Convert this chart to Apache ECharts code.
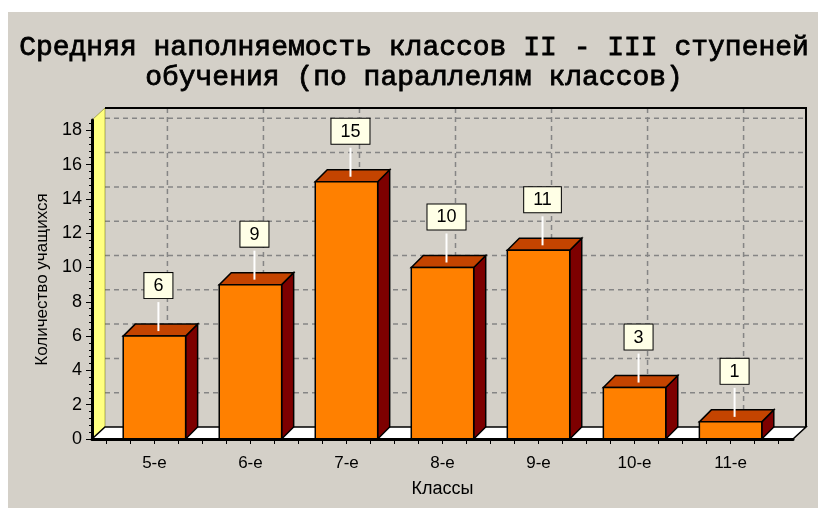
<!DOCTYPE html>
<html>
<head>
<meta charset="utf-8">
<script src="https://cdn.jsdelivr.net/npm/echarts@6/dist/echarts.min.js"></script>
<style>
  html, body { margin: 0; padding: 0; background: #ffffff; }
  #chart { position: absolute; left: 8px; top: 12px; width: 810px; height: 496px; }
</style>
</head>
<body>
<div id="chart"></div>
<script>
// данные
const classes = ['5-е', '6-е', '7-е', '8-е', '9-е', '10-е', '11-е'];
const pupils = [6, 9, 15, 10, 11, 3, 1];
const yTicks = [0, 2, 4, 6, 8, 10, 12, 14, 16, 18];
const yMax = 18.6;
const titleLines = ['Средняя наполняемость классов II - III ступеней', 'обучения (по параллелям классов)'];

const DX = 13, DY = 12;     // глубина "3D"
const BAR_DX = 12, BAR_DY = 12;

let chart = echarts.init(document.getElementById('chart'));

// стенки, пол и сетка на задней стенке
function renderWalls(params, api) {
    const cs = params.coordSys;
    const x0 = cs.x, x1 = cs.x + cs.width;
    const yb = api.coord([0, 0])[1];
    const yt = api.coord([0, yMax])[1];
    let children = [];
    for (let i = 1; i < yTicks.length; i++) {
        const y = api.coord([0, yTicks[i]])[1] - DY;
        children.push({
            type: 'line',
            shape: {x1: x0 + DX, y1: y, x2: x1 + DX, y2: y},
            style: {stroke: '#858585', lineWidth: 1.5, lineDash: [5, 4]}
        });
    }
    for (let i = 0; i < classes.length; i++) {
        const x = api.coord([i, 0])[0] + DX;
        children.push({
            type: 'line',
            shape: {x1: x, y1: yt - DY, x2: x, y2: yb - DY},
            style: {stroke: '#858585', lineWidth: 1.5, lineDash: [5, 4]}
        });
    }
    // левая стенка
    children.push({
        type: 'polygon',
        shape: {points: [[x0, yb], [x0, yt], [x0 + DX, yt - DY], [x0 + DX, yb - DY]]},
        style: {fill: '#ffff80', stroke: '#6b6b00', lineWidth: 0.5}
    });
    // пол
    children.push({
        type: 'polygon',
        shape: {points: [[x0, yb], [x1, yb], [x1 + DX, yb - DY], [x0 + DX, yb - DY]]},
        style: {fill: '#ffffff', stroke: '#000000', lineWidth: 1.5}
    });
    // рамка задней стенки
    children.push({
        type: 'polyline',
        shape: {points: [[x0 + DX, yt - DY], [x1 + DX, yt - DY], [x1 + DX, yb - DY]]},
        style: {fill: 'none', stroke: '#000000', lineWidth: 2}
    });
    return {type: 'group', children: children};
}

function renderBar(params, api) {
    const i = api.value(0);
    const v = api.value(1);
    const base = api.coord([i, 0]);
    const top = api.coord([i, v]);
    const halfW = api.size([1, 0])[0] * 0.325;
    const xl = base[0] - halfW, xr = base[0] + halfW;
    const yb = base[1], yt = top[1];
    const lx = base[0] + 4;
    const boxBottom = yt - 38;
    return {
        type: 'group',
        children: [
            {   // бок
                type: 'polygon',
                shape: {points: [[xr, yb], [xr, yt], [xr + BAR_DX, yt - BAR_DY], [xr + BAR_DX, yb - BAR_DY]]},
                style: {fill: '#7d0000', stroke: '#000', lineWidth: 1.5}
            },
            {   // верх
                type: 'polygon',
                shape: {points: [[xl, yt], [xr, yt], [xr + BAR_DX, yt - BAR_DY], [xl + BAR_DX, yt - BAR_DY]]},
                style: {fill: '#c44400', stroke: '#000', lineWidth: 1.5}
            },
            {   // фронт
                type: 'rect',
                shape: {x: xl, y: yt, width: xr - xl, height: yb - yt},
                style: {fill: '#ff8000', stroke: '#000', lineWidth: 1.5}
            },
            {
                type: 'line',
                shape: {x1: lx, y1: boxBottom + 4, x2: lx, y2: yt - 5},
                style: {stroke: '#ffffff', lineWidth: 2}
            },
            {
                type: 'text',
                style: {
                    text: String(v),
                    x: lx, y: boxBottom,
                    align: 'center', verticalAlign: 'bottom',
                    font: '18px "Liberation Sans", Arial, sans-serif',
                    fill: '#000',
                    backgroundColor: '#ffffe6',
                    borderColor: '#000',
                    borderWidth: 1,
                    padding: [4, 9, 3, 9],
                    boxShadowColor: 'rgba(60,60,60,0.6)',
                    boxShadowBlur: 2,
                    boxShadowOffsetX: 3,
                    boxShadowOffsetY: 3
                }
            }
        ]
    };
}

let quarterTicks = [];
for (let t = -2; t <= 26; t++) quarterTicks.push(t / 4);

const titleFont = '28px "Liberation Mono", "Courier New", monospace';

let option = {
    backgroundColor: '#d4d0c8',
    animation: false,
    graphic: [
        {
            type: 'text', x: 406, y: 36,
            style: {
                text: titleLines[0], align: 'center', verticalAlign: 'middle',
                font: titleFont, fill: '#000', stroke: '#000', lineWidth: 0.8
            }
        },
        {
            type: 'text', x: 406, y: 66,
            style: {
                text: titleLines[1], align: 'center', verticalAlign: 'middle',
                font: titleFont, fill: '#000', stroke: '#000', lineWidth: 0.8
            }
        }
    ],
    grid: {left: 84, right: 25, top: 108, bottom: 69},
    xAxis: {
        type: 'value',
        min: -0.65,
        max: 6.65,
        z: 5,
        axisLine: {show: true, onZero: false, lineStyle: {color: '#000', width: 3}},
        axisTick: {show: true, length: 5, customValues: quarterTicks, lineStyle: {color: '#000'}},
        axisLabel: {
            customValues: [0, 1, 2, 3, 4, 5, 6],
            formatter: function (val) { return classes[Math.round(val)]; },
            fontSize: 17,
            fontFamily: '"Liberation Sans", Arial, sans-serif',
            color: '#000',
            margin: 16
        },
        splitLine: {show: false},
        name: 'Классы',
        nameLocation: 'middle',
        nameGap: 41,
        nameTextStyle: {fontSize: 18, fontFamily: '"Liberation Sans", Arial, sans-serif', color: '#000'}
    },
    yAxis: {
        type: 'value',
        min: 0,
        max: yMax,
        interval: 2,
        z: 5,
        axisLine: {show: true, onZero: false, lineStyle: {color: '#000', width: 3}},
        axisTick: {show: true, length: 6, customValues: yTicks, lineStyle: {color: '#000'}},
        minorTick: {show: true, splitNumber: 5, length: 3, lineStyle: {color: '#000'}},
        axisLabel: {
            customValues: yTicks,
            fontSize: 18,
            fontFamily: '"Liberation Sans", Arial, sans-serif',
            color: '#000',
            margin: 10
        },
        splitLine: {show: false},
        name: 'Количество учащихся',
        nameLocation: 'middle',
        nameRotate: 90,
        nameGap: 38,
        nameTextStyle: {fontSize: 17, fontFamily: '"Liberation Sans", Arial, sans-serif', color: '#000'}
    },
    series: [
        {
            type: 'custom',
            name: 'walls',
            z: 1,
            silent: true,
            renderItem: renderWalls,
            data: [[0, 0]]
        },
        {
            type: 'custom',
            name: 'Количество учащихся',
            z: 3,
            renderItem: renderBar,
            data: pupils.map(function (v, i) { return [i, v]; })
        }
    ]
};

chart.setOption(option);
</script>
</body>
</html>
